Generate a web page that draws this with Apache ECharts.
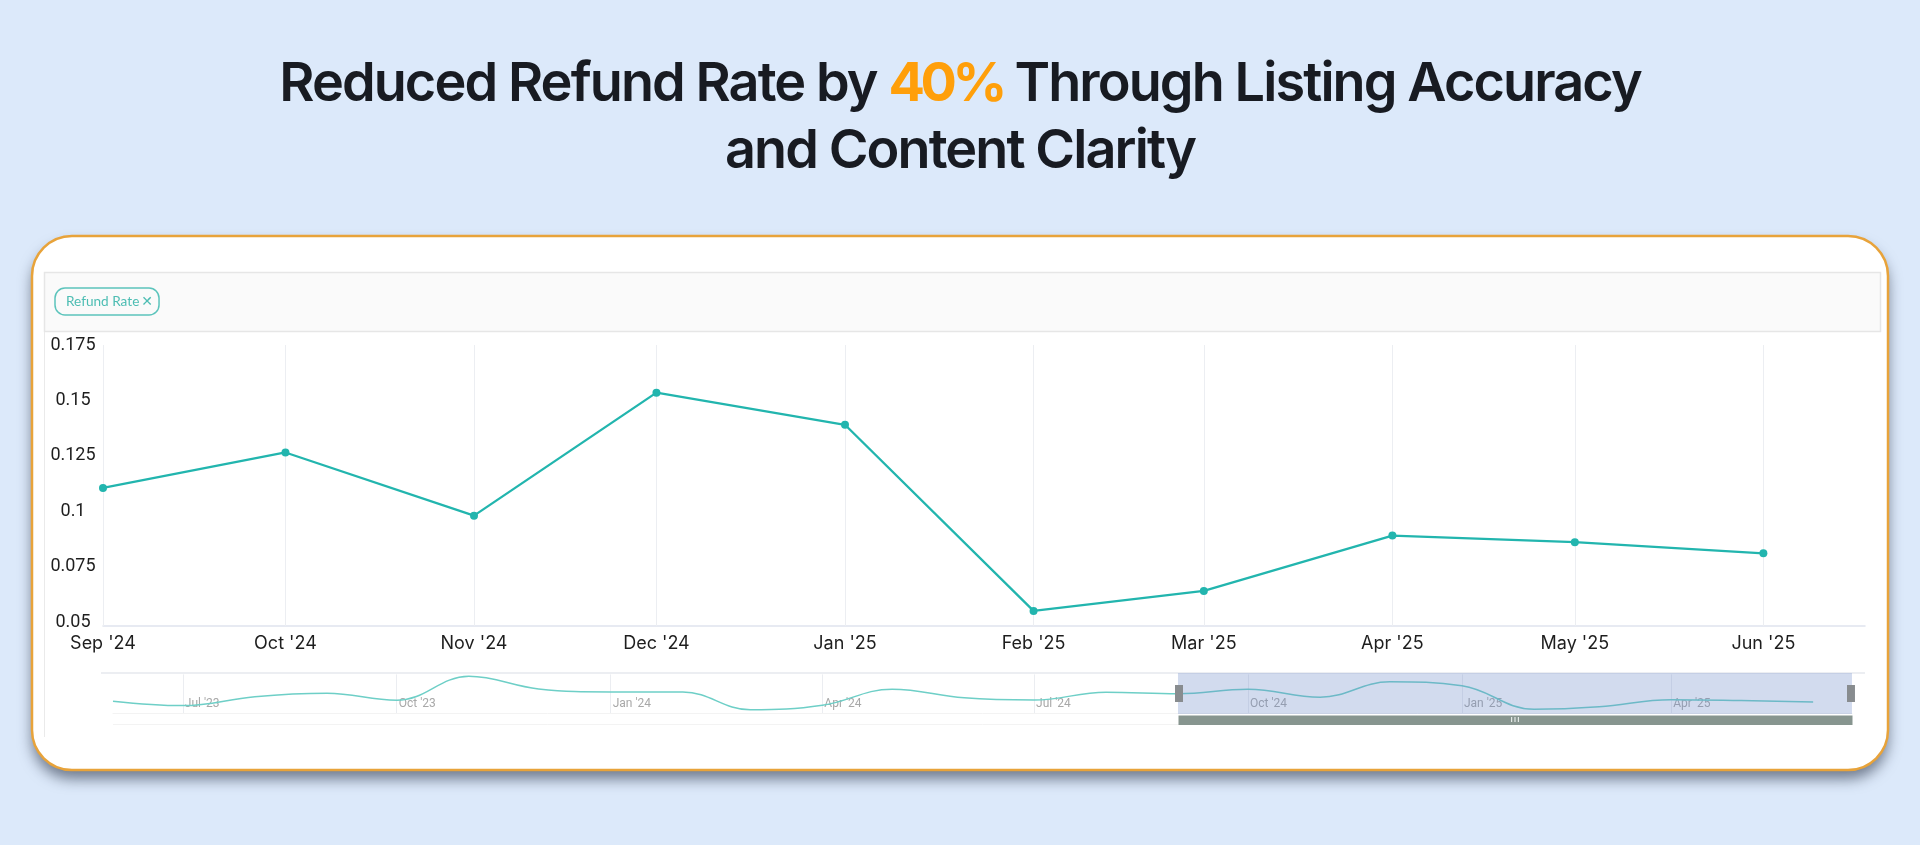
<!DOCTYPE html>
<html>
<head>
<meta charset="utf-8">
<style>
html,body{margin:0;padding:0;background:#DCE9FA;overflow:hidden}
#c{width:1920px;height:845px;position:absolute;left:0;top:0}
#t{position:absolute;z-index:5;left:0;top:48px;width:1920px;margin:0;text-align:center;font-family:Inter,sans-serif;font-weight:600;font-size:54px;line-height:67px;letter-spacing:-1.9px;color:#181B22}
#t b{font-weight:700;color:#FF9F0A;letter-spacing:-4.5px}
</style>
<script src="https://cdn.jsdelivr.net/npm/echarts@6/dist/echarts.min.js"></script>
</head>
<body>
<h1 id="t">Reduced Refund Rate by <b>40%</b> Through Listing Accuracy<br>and Content Clarity</h1>
<div id="c"></div>
<script>
const months = ['2023-06-01','2023-07-01','2023-08-01','2023-09-01','2023-10-01','2023-11-01','2023-12-01',
  '2024-01-01','2024-02-01','2024-03-01','2024-04-01','2024-05-01','2024-06-01','2024-07-01','2024-08-01',
  '2024-09-01','2024-10-01','2024-11-01','2024-12-01','2025-01-01','2025-02-01','2025-03-01','2025-04-01','2025-05-01','2025-06-01'];
const refundRate = [0.084,0.068,0.100,0.112,0.087,0.173,0.128,0.117,0.117,0.053,0.069,0.127,0.096,0.088,0.116,
  0.1105,0.1265,0.098,0.1535,0.139,0.055,0.064,0.089,0.086,0.081];
const mainTicks = ["Sep '24","Oct '24","Nov '24","Dec '24","Jan '25","Feb '25","Mar '25","Apr '25","May '25","Jun '25"];
const navTicks = ["Jul '23","Oct '23","Jan '24","Apr '24","Jul '24","Oct '24","Jan '25","Apr '25"];
const rangeStart = '2023-06-01', rangeEnd = '2025-06-17 17:00', windowStart = '2024-09-01';
const seriesName = 'Refund Rate';
const monthNames = ['Jan','Feb','Mar','Apr','May','Jun','Jul','Aug','Sep','Oct','Nov','Dec'];
const points = months.map((m, i) => [m, refundRate[i]]);
const fmtIn = list => v => { const d = new Date(v); const s = monthNames[d.getMonth()] + " '" + String(d.getFullYear()).slice(2); return (d.getDate()===1 && list.includes(s)) ? s : ''; };

const chart = echarts.init(document.getElementById('c'), null, {renderer:'canvas'});
chart.setOption({
  animation:false,
  backgroundColor:'#DCE9FA',
  useUTC:false,
  graphic:[
    {type:'rect',z:-11,shape:{x:32,y:236,width:1856,height:534,r:40},
     style:{fill:'#fff',shadowBlur:14,shadowOffsetY:9,shadowOffsetX:0,shadowColor:'rgba(40,50,70,0.6)'}},
    {type:'rect',z:-10,shape:{x:32,y:236,width:1856,height:534,r:40},
     style:{fill:'#fff',stroke:'#E8A33A',lineWidth:2.5}},
    {type:'rect',z:-9,shape:{x:44.5,y:272.5,width:1836,height:59},style:{fill:'#FAFAFA',stroke:'#E6E6E6',lineWidth:1.5}},
    {type:'line',z:-9,shape:{x1:44.5,y1:332,x2:44.5,y2:737},style:{stroke:'#EAEAEA',lineWidth:1}},
    {type:'line',z:-9,shape:{x1:101,y1:673,x2:1865,y2:673},style:{stroke:'#E6E8EE',lineWidth:1.5}},
    {type:'line',z:-9,shape:{x1:113,y1:724.5,x2:1852,y2:724.5},style:{stroke:'#F3F3F3',lineWidth:1}},
    {type:'rect',z:20,zlevel:1,shape:{x:1511,y:717,width:1.2,height:5},style:{fill:'#E4E9E7'}},
    {type:'rect',z:20,zlevel:1,shape:{x:1514.4,y:717,width:1.2,height:5},style:{fill:'#E4E9E7'}},
    {type:'rect',z:20,zlevel:1,shape:{x:1517.8,y:717,width:1.2,height:5},style:{fill:'#E4E9E7'}}
  ],
  legend:{
    data:[seriesName], left:55, top:288, selectedMode:false,
    formatter:n => '{a|' + n + '}{b|\u2715}',
    itemWidth:0, itemHeight:0, icon:'rect', itemStyle:{opacity:0},
    borderColor:'#5CC4BC', borderWidth:1.5, borderRadius:10, padding:[7,6,6,6],
    textStyle:{rich:{
      a:{fontFamily:'Lato',fontSize:13.6,color:'#4DBDB3',lineHeight:15},
      b:{fontFamily:'DejaVu Sans',fontSize:14,color:'#4DBDB3',lineHeight:15,padding:[0,0,0,2]}
    }}
  },
  grid:[
    {left:103,top:345,width:1762,height:277,containLabel:false},
    {left:113,top:674.4,width:1739,height:39}
  ],
  xAxis:[
    {type:'time',gridIndex:0,min:rangeStart,max:rangeEnd,offset:4,splitNumber:10,
     axisLine:{show:true,lineStyle:{color:'#DFE3EE',width:1.5}},
     axisTick:{show:true,inside:true,length:4,lineStyle:{color:'#ECEEF2'}},
     splitLine:{show:true,showMaxLine:false,lineStyle:{color:'#ECEEF2',width:1}},
     minorTick:{show:false},
     axisLabel:{formatter:fmtIn(mainTicks),margin:9,fontFamily:'Inter',fontSize:18,color:'#1E1E1E',hideOverlap:false,alignMinLabel:'center',alignMaxLabel:'center',fontWeight:'normal'}},
    {type:'time',gridIndex:1,min:rangeStart,max:rangeEnd,splitNumber:8,
     axisLine:{show:true,lineStyle:{color:'#F3F3F3'}},
     axisTick:{show:false},
     splitLine:{show:true,showMinLine:false,showMaxLine:false,lineStyle:{color:'#EBEDF1',width:1}},
     axisLabel:{formatter:fmtIn(navTicks),inside:true,margin:3,align:'left',padding:[0,0,0,2],fontFamily:'Roboto',fontSize:12,color:'#A8A8A8',hideOverlap:false,fontWeight:'normal'}}
  ],
  yAxis:[
    {type:'value',gridIndex:0,min:0.05,max:0.175,interval:0.025,
     axisLine:{show:false},axisTick:{show:false},splitLine:{show:false},
     axisLabel:{margin:30,align:'center',padding:[2,0,0,0],fontFamily:'Roboto',fontSize:18,color:'#1E1E1E'}},
    {type:'value',gridIndex:1,min:0.04,max:0.18,show:false,splitLine:{show:false}}
  ],
  dataZoom:[
    {type:'slider',xAxisIndex:0,left:112,width:1739.5,top:673,height:41,
     startValue:windowStart,endValue:rangeEnd,
     filterMode:'filter',showDataShadow:false,showDetail:false,brushSelect:false,
     backgroundColor:'rgba(0,0,0,0)',borderColor:'rgba(0,0,0,0)',
     fillerColor:'rgba(105,135,198,0.3)',
     handleIcon:'path://M0 0H8V17H0Z',handleSize:17,
     handleStyle:{color:'#888C8F',borderColor:'#888C8F',borderWidth:0}},
    {type:'slider',xAxisIndex:0,left:112,width:1739.5,top:715,height:9.5,
     startValue:windowStart,endValue:rangeEnd,
     filterMode:'filter',showDataShadow:false,showDetail:false,brushSelect:false,
     backgroundColor:'rgba(0,0,0,0)',borderColor:'rgba(0,0,0,0)',
     fillerColor:'#87958F',
     handleIcon:'path://M0 0H1V1H0Z',handleSize:1,
     handleStyle:{color:'#87958F',borderColor:'#87958F',borderWidth:0}}
  ],
  series:[
    {name:seriesName,type:'line',xAxisIndex:0,yAxisIndex:0,data:points,
     symbol:'circle',symbolSize:8,showAllSymbol:true,clip:false,
     lineStyle:{color:'#22B5AE',width:2.3},itemStyle:{color:'#22B5AE'}},
    {name:seriesName,type:'line',xAxisIndex:1,yAxisIndex:1,data:points,
     smooth:0.4,symbol:'none',lineStyle:{color:'#6ECFC7',width:1.5},itemStyle:{color:'#6ECFC7'}}
  ]
});
</script>
</body>
</html>
